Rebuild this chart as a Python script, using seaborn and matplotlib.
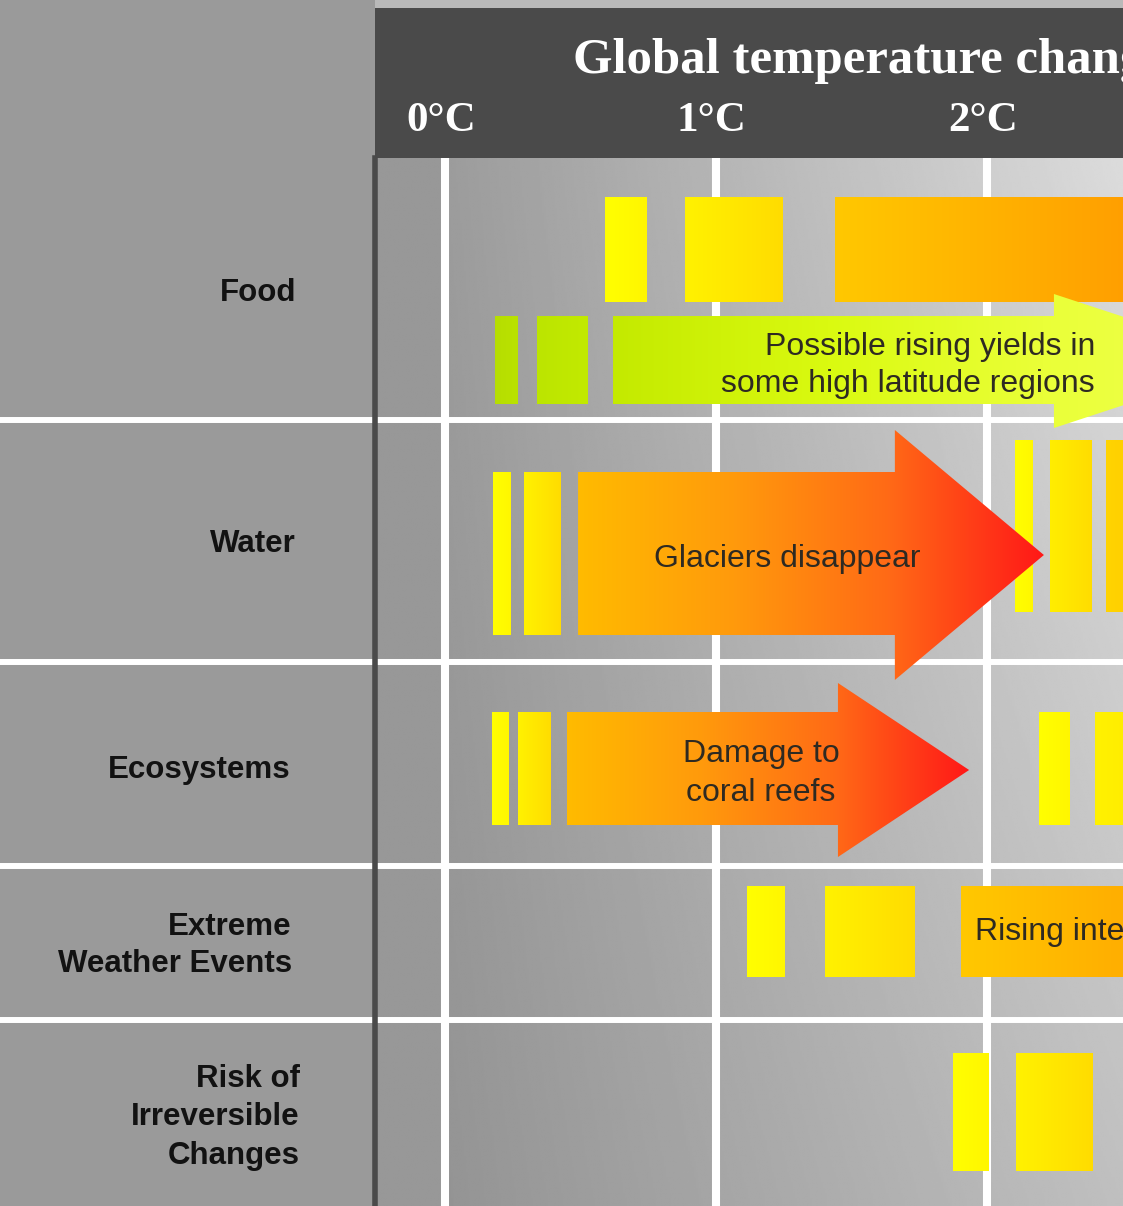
import numpy as np
import matplotlib
matplotlib.use("Agg")
import matplotlib.pyplot as plt
import seaborn as sns
from matplotlib.patches import Polygon, Rectangle

# ---------------- data (temperature change, °C) ----------------
TEMP_TICKS = [0, 1, 2]
TICK_LABELS = ["0°C", "1°C", "2°C"]
TITLE = "Global temperature change"
ROW_LABELS = ["Food", "Water", "Ecosystems", "Extreme\nWeather Events",
              "Risk of\nIrreversible\nChanges"]

food_top_start = [0.59, 0.886, 1.439]
food_top_end = [0.745, 1.247, 3.0]
food_low_start = [0.185, 0.341]
food_low_end = [0.269, 0.528]
food_arrow = [0.620, 2.247, 3.0]           # start, head start, tip
food_arrow_text = "Possible rising yields in\nsome high latitude regions"

water_start = [0.177, 0.292, 2.103, 2.232, 2.439]
water_end = [0.244, 0.428, 2.170, 2.387, 2.70]
water_arrow = [0.491, 1.660, 2.210]
water_arrow_text = "Glaciers disappear"

eco_start = [0.173, 0.269, 2.192, 2.398]
eco_end = [0.236, 0.391, 2.306, 2.70]
eco_arrow = [0.450, 1.450, 1.934]
eco_arrow_text = "Damage to\ncoral reefs"

extreme_start = [1.114, 1.402]
extreme_end = [1.255, 1.734]
extreme_band = [1.904, 3.0]
extreme_text = "Rising intensity of storms, forest fires, droughts, flooding and heat waves"

risk_start = [1.876, 2.107]
risk_end = [2.007, 2.391]

# ---------------- layout (pixels) ----------------
W, H = 1123, 1206
PX_PER_DEG = 271.0
ZERO_PX = 445.0
PANEL_L = 375
HEAD_TOP = 8
PLOT_TOP = 158
XMIN = (PANEL_L - ZERO_PX) / PX_PER_DEG
XMAX = (W - ZERO_PX) / PX_PER_DEG
ROW_LINES = [420, 662, 866, 1020]

sns.set_theme(style="white")
plt.rcParams["font.family"] = ["Liberation Sans", "DejaVu Sans"]

fig = plt.figure(figsize=(W / 100, H / 100), dpi=100, facecolor="#9a9a9a")


def fax(x0, y0, x1, y1):
    return fig.add_axes([x0 / W, 1 - y1 / H, (x1 - x0) / W, (y1 - y0) / H])


# left label panel
axl = fax(0, 0, PANEL_L, H)
axl.set_xlim(0, PANEL_L)
axl.set_ylim(H, 0)
axl.set_facecolor("#9a9a9a")
axl.axis("off")
for y in ROW_LINES:
    axl.axhline(y, color="white", lw=4.3, zorder=2)

label_right = [296, 296, 291, 292, 300]
label_baselines = [[301], [552], [778], [935, 972], [1087, 1125, 1164]]
for lab, xr, bls in zip(ROW_LABELS, label_right, label_baselines):
    for line, bl in zip(lab.split("\n"), bls):
        axl.text(xr, bl, line, ha="right", va="baseline", fontsize=22.5,
                 fontweight="bold", color="#121212",
                 family=["Liberation Sans", "DejaVu Sans"])

# top light strip
fig.patches.append(Rectangle((PANEL_L / W, 1 - HEAD_TOP / H), 1 - PANEL_L / W,
                             HEAD_TOP / H, transform=fig.transFigure,
                             facecolor="#b9b9b9", edgecolor="none", zorder=0))

# header
axh = fax(PANEL_L, HEAD_TOP, W, PLOT_TOP)
axh.set_xlim(XMIN, XMAX)
axh.set_ylim(PLOT_TOP, HEAD_TOP)
axh.set_facecolor("#4a4a4a")
for s in axh.spines.values():
    s.set_visible(False)
axh.set_xticks([])
axh.set_yticks([])
serif = ["Liberation Serif", "DejaVu Serif"]
axh.text((573 - ZERO_PX) / PX_PER_DEG, 73, TITLE, ha="left", va="baseline",
         fontsize=36.5, fontweight="bold", color="white", family=serif, clip_on=True)
for t, lab in zip(TEMP_TICKS, TICK_LABELS):
    axh.text(t - 0.015, 131, lab, ha="center", va="baseline", fontsize=31,
             fontweight="bold", color="white", family=serif)

# main plot
ax = fax(PANEL_L, PLOT_TOP, W, H)
for k, s in ax.spines.items():
    s.set_visible(k == "left")
ax.spines["left"].set_color("#4a4a4a")
ax.spines["left"].set_linewidth(4)
ax.set_xticks([])
ax.set_yticks([])

# background gradient
nx, ny = 400, 200
xs = np.linspace(XMIN, XMAX, nx)
fy = np.linspace(0, 1, ny)[:, None]
fx = np.clip(xs / 2.5, 0, 1)[None, :]
bg = 0.61 + 0.25 * fx - 0.03 * fy - 0.08 * fx * fy
bg = np.where(xs[None, :] < 0, 0.595, bg)
ax.imshow(bg, cmap="gray", vmin=0, vmax=1, extent=(XMIN, XMAX, H, PLOT_TOP),
          aspect="auto", interpolation="bilinear", zorder=0)

for t in TEMP_TICKS:
    ax.axvline(t, color="white", lw=5.8, zorder=1)
for y in ROW_LINES:
    ax.axhline(y, color="white", lw=4.3, zorder=1)

GRAD = np.linspace(0, 1, 256)[None, :]


def gshape(verts, x0, x1, ytop, ybot, colors, z=3):
    poly = Polygon(verts, closed=True, fc="none", ec="none", transform=ax.transData)
    ax.add_patch(poly)
    im = ax.imshow(GRAD, cmap=sns.blend_palette(colors, as_cmap=True),
                   extent=(x0, x1, ybot, ytop), aspect="auto",
                   interpolation="bilinear", zorder=z)
    im.set_clip_path(poly)


def bar(x0, x1, ys, colors):
    y0, y1 = ys
    gshape([(x0, y0), (x1, y0), (x1, y1), (x0, y1)], x0, x1, y0, y1, colors)


def arrow(spec, body, head, colors):
    start, hx, tip = spec
    yc = (head[0] + head[1]) / 2
    verts = [(start, body[0]), (hx, body[0]), (hx, head[0]), (tip, yc),
             (hx, head[1]), (hx, body[1]), (start, body[1])]
    gshape(verts, start, tip, head[0], head[1], colors)


Y1 = ["#ffff00", "#fff600"]
Y2 = ["#fff200", "#ffdc00"]
HOT = ["#ffbb00", "#ff9a0c", "#ff6a16", "#ff1818"]

# Food
for s, e, c in zip(food_top_start, food_top_end,
                   [Y1, Y2, ["#ffc800", "#ff8c00"]]):
    bar(s, e, (197, 302), c)
for s, e, c in zip(food_low_start, food_low_end,
                   [["#b6de00", "#bae200"], ["#bce500", "#c2ea00"]]):
    bar(s, e, (316, 404), c)
arrow(food_arrow, (316, 404), (294, 428), ["#c4ea00", "#dafa10", "#eaff38", "#f0ff50"])

# Water
for s, e, c in zip(water_start, water_end,
                   [Y1, Y2, Y1, ["#ffee00", "#ffdc00"], ["#ffd400", "#ffc400"]]):
    ys = (472, 635) if s < 1 else (440, 612)
    bar(s, e, ys, c)
arrow(water_arrow, (472, 635), (430, 680), HOT)

# Ecosystems
for s, e, c in zip(eco_start, eco_end, [Y1, Y2, Y1, ["#fff200", "#ffe400"]]):
    bar(s, e, (712, 825), c)
arrow(eco_arrow, (712, 825), (683, 857), HOT)

# Extreme weather
for s, e, c in zip(extreme_start, extreme_end, [Y1, Y2]):
    bar(s, e, (886, 977), c)
bar(extreme_band[0], extreme_band[1], (886, 977), ["#ffc800", "#ffb000", "#ffa400"])

# Risk
for s, e, c in zip(risk_start, risk_end, [Y1, Y2]):
    bar(s, e, (1053, 1171), c)

# arrow texts
tcol = "#2e2a22"
lines = food_arrow_text.split("\n")
for line, bl in zip(lines, [355, 392]):
    ax.text((1095 - ZERO_PX) / PX_PER_DEG, bl, line, ha="right", va="baseline",
            fontsize=23, color=tcol, zorder=5)
ax.text((787 - ZERO_PX) / PX_PER_DEG, 567, water_arrow_text, ha="center",
        va="baseline", fontsize=23, color=tcol, zorder=5)
for line, bl in zip(eco_arrow_text.split("\n"), [762, 801]):
    ax.text((761 - ZERO_PX) / PX_PER_DEG, bl, line, ha="center", va="baseline",
            fontsize=23, color=tcol, zorder=5)
ax.text((975 - ZERO_PX) / PX_PER_DEG, 940, extreme_text, ha="left",
        va="baseline", fontsize=23, color=tcol, zorder=5, clip_on=True)

ax.set_xlim(XMIN, XMAX)
ax.set_ylim(H, PLOT_TOP)

fig.savefig("out.png", dpi=100, facecolor=fig.get_facecolor())
